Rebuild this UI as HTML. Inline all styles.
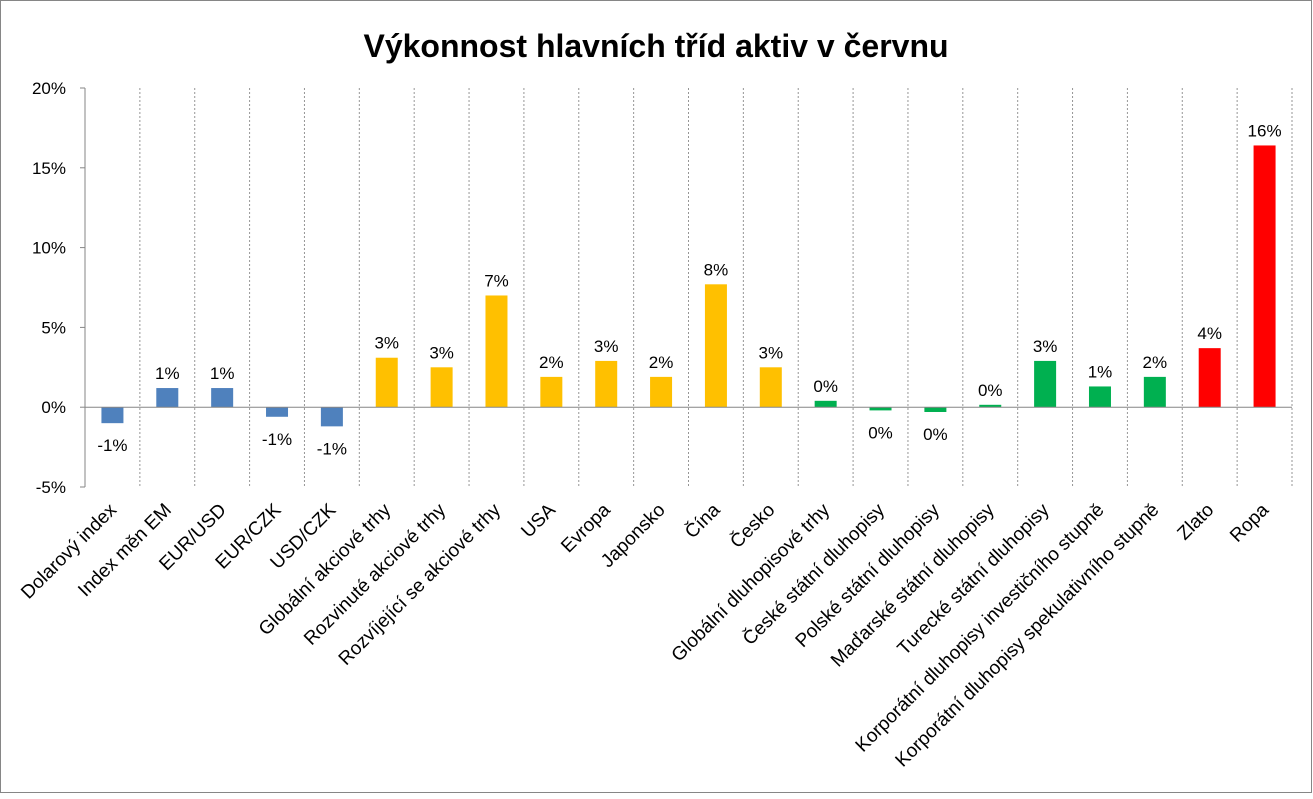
<!DOCTYPE html>
<html><head><meta charset="utf-8">
<style>
html,body{margin:0;padding:0;background:#fff;}
body{width:1313px;height:794px;overflow:hidden;font-family:"Liberation Sans",sans-serif;}
</style></head>
<body>
<svg id="chart" width="1313" height="794" xmlns="http://www.w3.org/2000/svg">
<rect x="0.5" y="0.5" width="1311" height="792" fill="#fff" stroke="#868686"/>
<text x="656" y="57" text-anchor="middle" font-size="32" font-weight="bold" fill="#000">Výkonnost hlavních tříd aktiv v červnu</text>
<g id="grid"></g><g id="bars"></g><g id="axis"></g><g id="labels"></g>
</svg>
<script>
const categories=["Dolarový index","Index měn EM","EUR/USD","EUR/CZK","USD/CZK","Globální akciové trhy","Rozvinuté akciové trhy","Rozvíjející se akciové trhy","USA","Evropa","Japonsko","Čína","Česko","Globální dluhopisové trhy","České státní dluhopisy","Polské státní dluhopisy","Maďarské státní dluhopisy","Turecké státní dluhopisy","Korporátní dluhopisy investičního stupně","Korporátní dluhopisy spekulativního stupně","Zlato","Ropa"];
const values=[-1.0,1.2,1.2,-0.6,-1.2,3.1,2.5,7.0,1.9,2.9,1.9,7.7,2.5,0.4,-0.2,-0.3,0.15,2.9,1.3,1.9,3.7,16.4];
const groups=["fx","fx","fx","fx","fx","eq","eq","eq","eq","eq","eq","eq","eq","bd","bd","bd","bd","bd","bd","bd","cm","cm"];
const groupColors={fx:"#4F81BD",eq:"#FFC000",bd:"#00B050",cm:"#FF0000"};
const yTicks=[-5,0,5,10,15,20];
const NS="http://www.w3.org/2000/svg";
const left=85,right=1292,yTop=88,yBot=487,yMin=-5,yMax=20;
const band=(right-left)/categories.length;
const y=v=>yBot-(v-yMin)/(yMax-yMin)*(yBot-yTop);
const xc=i=>left+band*(i+0.5);
function mk(tag,attrs,parent){const e=document.createElementNS(NS,tag);for(const k in attrs)e.setAttribute(k,attrs[k]);parent.appendChild(e);return e;}
const grid=document.getElementById('grid'),bars=document.getElementById('bars'),axis=document.getElementById('axis'),labels=document.getElementById('labels');
for(let i=1;i<=categories.length;i++){
  const l=mk('line',{x1:left+band*i,x2:left+band*i,y1:yTop,y2:yBot,stroke:"#969696","stroke-dasharray":"2,2"},grid);
  
  
}
const ax=mk('line',{x1:left,x2:left,y1:yTop,y2:yBot,stroke:"#868686"},axis);


yTicks.forEach(t=>{
  const tk=mk('line',{x1:left-5,x2:left,y1:y(t),y2:y(t),stroke:"#868686"},axis);
  
  
  const tx=mk('text',{x:left-19,y:y(t)+6,"text-anchor":"end","font-size":"17",fill:"#000"},axis);
  tx.textContent=t+"%";
  
  
});
values.forEach((v,i)=>{
  const bw=22,top=Math.min(y(v),y(0)),h=Math.abs(y(v)-y(0));
  const r=mk('rect',{x:xc(i)-bw/2,y:top,width:bw,height:h,fill:groupColors[groups[i]]},bars);
  
  
  const lt=mk('text',{x:xc(i),y:v>=0?y(v)-9:y(v)+28,"text-anchor":"middle","font-size":"17",fill:"#000"},labels);
  lt.textContent=Math.round(v)===0?"0%":Math.round(v)+"%";
  
  
  const cl=mk('text',{x:0,y:0,"text-anchor":"end","font-size":"19",fill:"#000",transform:`translate(${xc(i)+5},${yBot+24}) rotate(-45)`},labels);
  cl.textContent=categories[i];
  
  
});
const zl=mk('line',{x1:left,x2:right,y1:y(0),y2:y(0),stroke:"#868686"},axis);


</script>
</body></html>
